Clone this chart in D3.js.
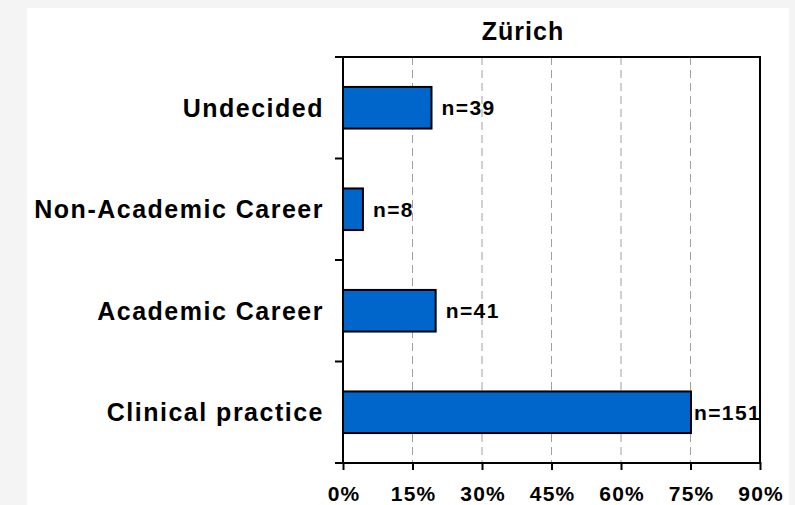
<!DOCTYPE html>
<html>
<head>
<meta charset="utf-8">
<script src="https://cdn.jsdelivr.net/npm/d3@7"></script>
<style>
  body { margin: 0; background: #f4f4f4; }
  text { font-family: "Liberation Sans", Arial, sans-serif; font-weight: bold; fill: #000; }
</style>
</head>
<body>
<svg id="chart" width="795" height="505"></svg>
<script>
// categories from top to bottom
const categories = ['Undecided', 'Non-Academic Career', 'Academic Career', 'Clinical practice'];
const percents = [19.1, 4.3, 20.0, 75.1];
const counts = [39, 8, 41, 151];
const xTicks = [0, 15, 30, 45, 60, 75, 90];
const title = 'Zürich';

const margin = {top: 57, right: 35, bottom: 42, left: 343},
  width = 760 - margin.left,
  height = 463 - margin.top;

const svg = d3.select('#chart');

// white chart panel
svg.append('rect')
  .attr('x', 27).attr('y', 8)
  .attr('width', 762).attr('height', 497)
  .attr('fill', '#fff');

svg.append('text')
  .attr('x', 523).attr('y', 40)
  .attr('text-anchor', 'middle')
  .style('font-size', '25px')
  .style('letter-spacing', '1px')
  .text(title);

const g = svg.append('g')
  .attr('transform', 'translate(' + margin.left + ',' + margin.top + ')');

let x = d3.scaleLinear()
  .domain([0, 90])
  .range([0, width]);

let y = d3.scaleBand()
  .domain(categories)
  .range([0, height])
  .paddingInner(0.59)
  .paddingOuter(0.295);

// dashed gridlines
g.append('g')
  .attr('class', 'grid')
  .selectAll('line')
  .data(xTicks.slice(1, -1))
  .enter().append('line')
  .attr('x1', d => x(d)).attr('x2', d => x(d))
  .attr('y1', 0).attr('y2', height)
  .attr('stroke', '#a0a0a0')
  .attr('stroke-width', 1)
  .attr('stroke-dasharray', '8,5');

// bars
g.selectAll('rect.bar')
  .data(categories)
  .enter().append('rect')
  .attr('class', 'bar')
  .attr('x', 0)
  .attr('y', d => y(d))
  .attr('width', (d, i) => x(percents[i]))
  .attr('height', y.bandwidth())
  .attr('fill', '#0066cc')
  .attr('stroke', '#000')
  .attr('stroke-width', 2);

// n labels, pulled in (but not onto the bar) when they would run past the frame
g.selectAll('text.nlab')
  .data(categories)
  .enter().append('text')
  .attr('class', 'nlab')
  .attr('y', d => y(d) + y.bandwidth() / 2)
  .attr('dy', '0.36em')
  .style('font-size', '21px')
  .style('letter-spacing', '1.4px')
  .text((d, i) => 'n=' + counts[i])
  .attr('x', function(d, i) {
    const end = x(percents[i]);
    const w = this.getComputedTextLength();
    return end + Math.max(3, Math.min(10, width - w - end));
  });

// x axis
const xAxis = d3.axisBottom(x)
  .tickValues(xTicks)
  .tickSize(7)
  .tickPadding(16)
  .tickFormat(d => d + '%');

const xa = g.append('g')
  .attr('transform', 'translate(0,' + height + ')')
  .call(xAxis);
xa.select('.domain').remove();
xa.selectAll('line').attr('stroke', '#000').attr('stroke-width', 2).attr('y1', -1);
xa.selectAll('text')
  .style('font-size', '21px')
  .style('letter-spacing', '1.2px')
  .attr('dx', '0.6px')
  .attr('fill', '#000');

// y ticks at band boundaries
const yTicks = d3.range(categories.length + 1).map(i => i * y.step());
g.selectAll('line.ytick')
  .data(yTicks)
  .enter().append('line')
  .attr('class', 'ytick')
  .attr('x1', -8).attr('x2', 0)
  .attr('y1', d => d).attr('y2', d => d)
  .attr('stroke', '#000')
  .attr('stroke-width', 2);

// category labels
g.selectAll('text.cat')
  .data(categories)
  .enter().append('text')
  .attr('class', 'cat')
  .attr('x', -19)
  .attr('y', d => y(d) + y.bandwidth() / 2)
  .attr('dy', '0.36em')
  .attr('text-anchor', 'end')
  .style('font-size', '25px')
  .style('letter-spacing', '1.5px')
  .text(d => d);

// plot frame
g.append('rect')
  .attr('width', width).attr('height', height)
  .attr('fill', 'none')
  .attr('stroke', '#000')
  .attr('stroke-width', 2);
</script>
</body>
</html>
